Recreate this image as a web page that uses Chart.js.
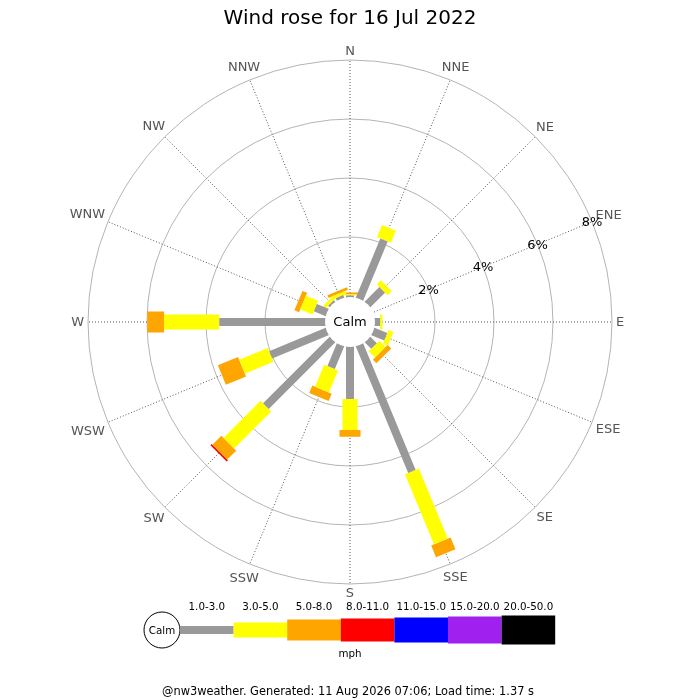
<!DOCTYPE html>
<html>
<head>
<meta charset="utf-8">
<title>Wind rose</title>
<script src="https://cdn.jsdelivr.net/npm/chart.js@4.4.1/dist/chart.umd.min.js"></script>
<style>
  html, body { margin: 0; padding: 0; background: #fff; }
  #wrap { width: 700px; height: 700px; }
</style>
</head>
<body>
<div id="wrap"><canvas id="rose"></canvas></div>
<script>
const directions = ["N", "NNE", "NE", "ENE", "E", "ESE", "SE", "SSE", "S", "SSW", "SW", "WSW", "W", "WNW", "NW", "NNW"];
const speedClasses = ["1.0-3.0", "3.0-5.0", "5.0-8.0", "8.0-11.0", "11.0-15.0", "15.0-20.0", "20.0-50.0"];
const radialTicks = [2, 4, 6, 8];

// % of the day in each direction, one list per speed class (mph)
const pct1to3 = [0.02, 2.13, 0.66, 0, 0.14, 0.43, 0.27, 4.6, 1.73, 0.79, 3.15, 2.03, 3.55, 0.39, 0.03, 0.05];
const pct3to5 = [0.03, 0.44, 0.2, 0, 0.08, 0.18, 0.3, 2.57, 1.05, 0.81, 1.78, 1.05, 1.87, 0.45, 0.12, 0.1];
const pct5to8 = [0.07, 0, 0, 0, 0, 0, 0.17, 0.43, 0.23, 0.27, 0.43, 0.74, 0.57, 0.17, 0, 0.1];
const pct8to11 = [0, 0, 0, 0, 0, 0, 0, 0, 0, 0, 0.06, 0, 0, 0, 0, 0];
const pct11to15 = [0, 0, 0, 0, 0, 0, 0, 0, 0, 0, 0, 0, 0, 0, 0, 0];
const pct15to20 = [0, 0, 0, 0, 0, 0, 0, 0, 0, 0, 0, 0, 0, 0, 0, 0];
const pct20to50 = [0, 0, 0, 0, 0, 0, 0, 0, 0, 0, 0, 0, 0, 0, 0, 0];

const classSeries = [pct1to3, pct3to5, pct5to8, pct8to11, pct11to15, pct15to20, pct20to50];
const classColors = ["#999999", "#ffff00", "#ffa500", "#ff0000", "#0000ff", "#a020f0", "#000000"];
const barWidths = [8, 15, 21, 23, 25, 27, 29];

// layout
const PX_PER_PCT = 29.5;
const CALM_R = 26 / PX_PER_PCT; // 0% sits on the edge of the calm circle
const CENTER_Y = 322;
const TITLE_PAD_TOP = 7, TITLE_PAD_BOTTOM = 5, TITLE_SIZE = 20;
const TITLE_H = TITLE_PAD_TOP + TITLE_SIZE * 1.2 + TITLE_PAD_BOTTOM;

Chart.defaults.font.family = "'DejaVu Sans', Verdana, sans-serif";

function polar(i, r) {
  const a = i * 2 * Math.PI / directions.length;
  return { x: r * Math.sin(a), y: r * Math.cos(a) };
}

// one line dataset per speed class, one short thick segment per direction
const datasets = classSeries.map((series, k) => {
  const pts = [];
  directions.forEach((d, i) => {
    if (!series[i]) return;
    let below = 0;
    for (let j = 0; j < k; j++) below += classSeries[j][i];
    const r0 = k === 0 ? 0 : CALM_R + below;
    const r1 = CALM_R + below + series[i];
    pts.push(polar(i, r0), polar(i, r1), { x: null, y: null });
  });
  return {
    label: speedClasses[k],
    data: pts,
    showLine: true,
    spanGaps: false,
    borderColor: classColors[k],
    backgroundColor: classColors[k],
    borderWidth: barWidths[k],
    borderCapStyle: "butt",
    pointRadius: 0,
    order: k
  };
});

const roseGrid = {
  id: "roseGrid",
  beforeDatasetsDraw(chart) {
    const ctx = chart.ctx;
    const xs = chart.scales.x, ys = chart.scales.y;
    const cx = xs.getPixelForValue(0), cy = ys.getPixelForValue(0);
    const unit = xs.getPixelForValue(1) - cx;
    ctx.save();
    // rings
    ctx.strokeStyle = "#b4b4b4";
    ctx.lineWidth = 1;
    for (const v of radialTicks) {
      ctx.beginPath();
      ctx.arc(cx, cy, (CALM_R + v) * unit, 0, 2 * Math.PI);
      ctx.stroke();
    }
    // spokes
    ctx.strokeStyle = "#555";
    ctx.setLineDash([1, 2]);
    const rMax = CALM_R + radialTicks[radialTicks.length - 1];
    directions.forEach((d, i) => {
      const p0 = polar(i, CALM_R), p1 = polar(i, rMax);
      ctx.beginPath();
      ctx.moveTo(xs.getPixelForValue(p0.x), ys.getPixelForValue(p0.y));
      ctx.lineTo(xs.getPixelForValue(p1.x), ys.getPixelForValue(p1.y));
      ctx.stroke();
    });
    ctx.setLineDash([]);
    // direction labels
    ctx.font = "13px 'DejaVu Sans'";
    ctx.fillStyle = "#555";
    ctx.textAlign = "center";
    ctx.textBaseline = "middle";
    directions.forEach((d, i) => {
      const a = i * 2 * Math.PI / directions.length;
      const w = ctx.measureText(d).width;
      const r = rMax * unit + 4 + Math.abs(Math.sin(a)) * w / 2 + Math.abs(Math.cos(a)) * 5;
      ctx.fillText(d, cx + r * Math.sin(a), cy - r * Math.cos(a) + 1);
    });
    // % labels along ENE
    ctx.fillStyle = "#000";
    const tickDir = directions.indexOf("ENE");
    for (const v of radialTicks) {
      const p = polar(tickDir, CALM_R + v);
      ctx.fillText(v + "%", xs.getPixelForValue(p.x), ys.getPixelForValue(p.y) + 1);
    }
    ctx.restore();
  },
  afterDatasetsDraw(chart) {
    const ctx = chart.ctx;
    const cx = chart.scales.x.getPixelForValue(0), cy = chart.scales.y.getPixelForValue(0);
    ctx.save();
    ctx.fillStyle = "#fff";
    ctx.beginPath();
    ctx.arc(cx, cy, 25, 0, 2 * Math.PI);
    ctx.fill();
    ctx.fillStyle = "#000";
    ctx.font = "13px 'DejaVu Sans'";
    ctx.textAlign = "center";
    ctx.textBaseline = "middle";
    ctx.fillText("Calm", cx, cy + 1);
    ctx.restore();
  },
  afterDraw(chart) {
    // speed legend under the rose
    const ctx = chart.ctx;
    const ly = 630, lx = 180, segW = 53.6;
    ctx.save();
    ctx.strokeStyle = "#000";
    ctx.fillStyle = "#fff";
    ctx.lineWidth = 1;
    ctx.beginPath();
    ctx.arc(162, ly, 18, 0, 2 * Math.PI);
    ctx.fill();
    ctx.stroke();
    ctx.fillStyle = "#000";
    ctx.font = "10.3px 'DejaVu Sans'";
    ctx.textAlign = "center";
    ctx.textBaseline = "middle";
    ctx.fillText("Calm", 162, ly + 1);
    speedClasses.forEach((s, k) => {
      const x0 = lx + k * segW;
      ctx.fillStyle = classColors[k];
      ctx.fillRect(x0, ly - barWidths[k] / 2, segW, barWidths[k]);
      ctx.fillStyle = "#000";
      ctx.fillText(s, x0 + segW / 2, 607);
    });
    ctx.fillText("mph", 350, 654);
    ctx.font = "11.4px 'DejaVu Sans'";
    ctx.fillText("@nw3weather. Generated: 11 Aug 2026 07:06; Load time: 1.37 s", 348, 692);
    ctx.restore();
  }
};

new Chart(document.getElementById("rose"), {
  type: "scatter",
  data: { datasets: datasets },
  options: {
    responsive: true,
    maintainAspectRatio: false,
    animation: false,
    events: [],
    layout: { padding: 0 },
    scales: {
      x: { type: "linear", display: false, min: -350 / PX_PER_PCT, max: 350 / PX_PER_PCT },
      y: { type: "linear", display: false, min: -(700 - CENTER_Y) / PX_PER_PCT, max: (CENTER_Y - TITLE_H) / PX_PER_PCT }
    },
    plugins: {
      legend: { display: false },
      tooltip: { enabled: false },
      title: {
        display: true,
        text: "Wind rose for 16 Jul 2022",
        color: "#000",
        font: { size: TITLE_SIZE, weight: "normal" },
        padding: { top: TITLE_PAD_TOP, bottom: TITLE_PAD_BOTTOM }
      }
    }
  },
  plugins: [roseGrid]
});
</script>
</body>
</html>
